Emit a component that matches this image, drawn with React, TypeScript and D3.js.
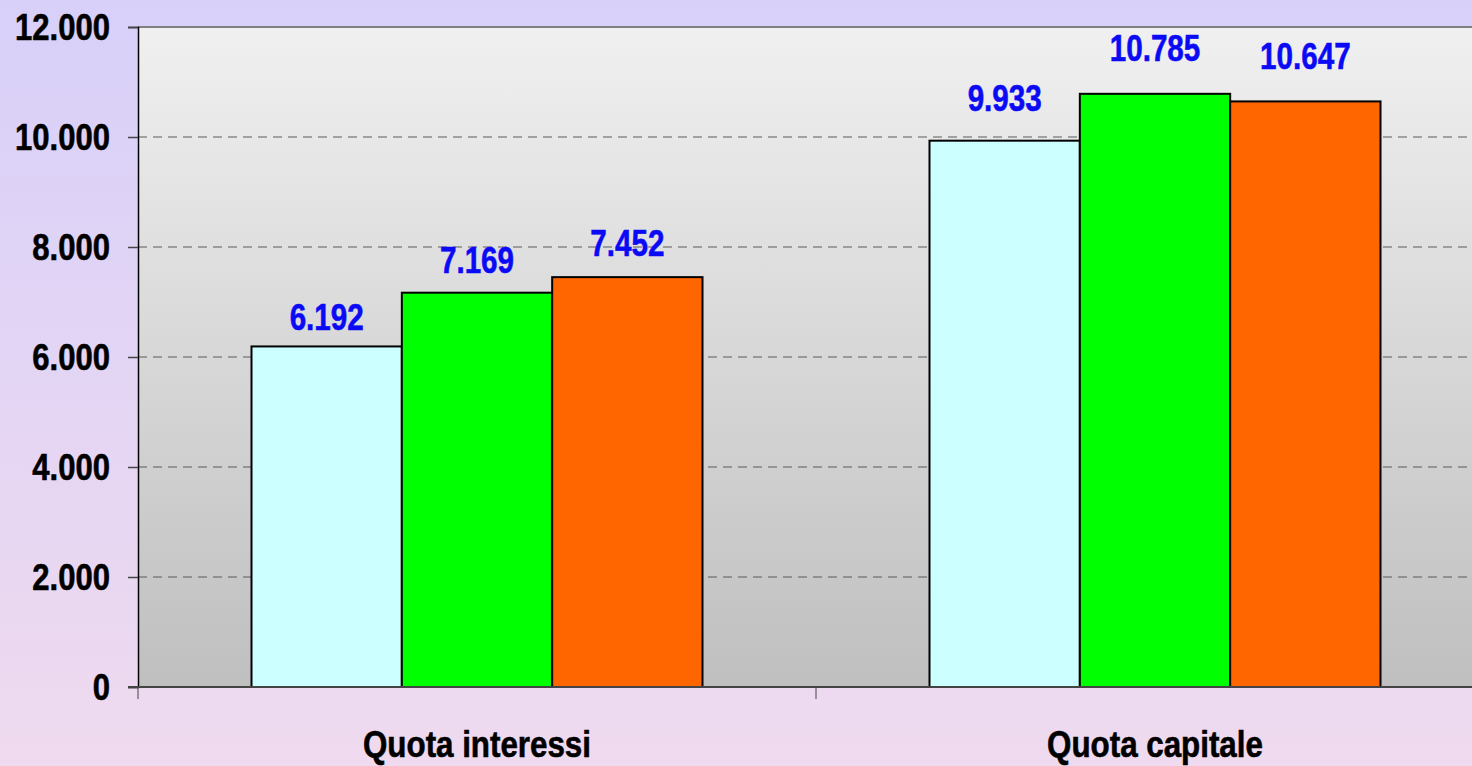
import * as d3 from "d3";
import React, { useEffect, useRef } from "react";

const categories = ["Quota interessi", "Quota capitale"];
const seriesNames = ["A", "B", "C"];
const seriesValues = [
  [6192, 9933],
  [7169, 10785],
  [7452, 10647],
];
const seriesColors = ["#ccffff", "#00ff00", "#ff6600"];
const yTicks = [0, 2000, 4000, 6000, 8000, 10000, 12000];

const W = 1472;
const H = 766;
const FONT = "'Liberation Sans', Arial, sans-serif";

const fmt = (v: number) => d3.format(",")(v).replace(/,/g, ".");

function App() {
  const svgRef = useRef<SVGSVGElement>(null);

  useEffect(() => {
    const svg = d3.select(svgRef.current);
    svg.selectAll("*").remove();

    const margin = { top: 27, left: 138, bottom: 79 };
    const plotRight = 1494;
    const plotBottom = H - margin.bottom;

    const defs = svg.append("defs");
    const bg = defs.append("linearGradient").attr("id", "pageBg").attr("x1", 0).attr("y1", 0).attr("x2", 0).attr("y2", 1);
    bg.append("stop").attr("offset", "0%").attr("stop-color", "#d8d0f9");
    bg.append("stop").attr("offset", "100%").attr("stop-color", "#efdaef");
    const pg = defs.append("linearGradient").attr("id", "plotBg").attr("x1", 0).attr("y1", 0).attr("x2", 0).attr("y2", 1);
    pg.append("stop").attr("offset", "0%").attr("stop-color", "#f0f0f0");
    pg.append("stop").attr("offset", "100%").attr("stop-color", "#bfbfbf");

    svg.append("rect").attr("width", W).attr("height", H).attr("fill", "url(#pageBg)");

    const x0 = d3.scaleBand().domain(categories).range([margin.left, plotRight]);
    const innerPad = (x0.bandwidth() - 451) / 2;
    const x1 = d3
      .scaleBand()
      .domain(seriesNames)
      .range([innerPad, x0.bandwidth() - innerPad]);

    const y = d3.scaleLinear().domain([0, 12000]).range([plotBottom, margin.top]);
    // data labels sit on a slightly stretched scale in the original
    const labelY = d3.scaleLinear().domain([0, 12000]).range([693, -10]);

    svg.append("rect")
      .attr("x", margin.left)
      .attr("y", margin.top)
      .attr("width", plotRight - margin.left)
      .attr("height", plotBottom - margin.top)
      .attr("fill", "url(#plotBg)");

    // grid
    svg.append("g")
      .selectAll("line")
      .data(yTicks.filter((t) => t > 0 && t < 12000))
      .join("line")
      .attr("x1", margin.left)
      .attr("x2", plotRight)
      .attr("y1", (d) => y(d))
      .attr("y2", (d) => y(d))
      .attr("stroke", "#5a5a5a")
      .attr("stroke-width", 1)
      .attr("stroke-dasharray", "9,6");

    svg.append("line")
      .attr("x1", margin.left)
      .attr("x2", plotRight)
      .attr("y1", y(12000))
      .attr("y2", y(12000))
      .attr("stroke", "#808080")
      .attr("stroke-width", 2);

    // bars
    seriesNames.forEach((s, si) => {
      const g = svg.append("g");
      g.selectAll("rect")
        .data(categories)
        .join("rect")
        .attr("x", (c) => x0(c)! + x1(s)!)
        .attr("y", (c, ci) => y(seriesValues[si][ci]))
        .attr("width", x1.bandwidth())
        .attr("height", (c, ci) => plotBottom - y(seriesValues[si][ci]))
        .attr("fill", seriesColors[si])
        .attr("stroke", "#000")
        .attr("stroke-width", 2);

      g.selectAll("text")
        .data(categories)
        .join("text")
        .attr("transform", (c, ci) =>
          `translate(${x0(c)! + x1(s)! + x1.bandwidth() / 2},${labelY(seriesValues[si][ci])}) scale(0.8,1)`)
        .attr("text-anchor", "middle")
        .attr("font-family", FONT)
        .attr("font-weight", "bold")
        .attr("font-size", 37)
        .attr("fill", "#0a0af5")
        .attr("stroke", "#0a0af5")
        .attr("stroke-width", 0.6)
        .text((c, ci) => fmt(seriesValues[si][ci]));
    });

    // y axis
    const yAxis = svg.append("g")
      .attr("transform", `translate(${margin.left},0)`)
      .call(d3.axisLeft(y).tickValues(yTicks).tickSize(10).tickFormat(() => ""));
    yAxis.select(".domain").attr("stroke", "#000").attr("stroke-width", 1.5);
    yAxis.selectAll(".tick line").attr("stroke", "#444").attr("stroke-width", 1.5);

    svg.append("g")
      .selectAll("text")
      .data(yTicks)
      .join("text")
      .attr("transform", (d) => `translate(${margin.left - 28},${y(d) + 13}) scale(0.84,1)`)
      .attr("text-anchor", "end")
      .attr("font-family", FONT)
      .attr("font-weight", "bold")
      .attr("font-size", 37)
      .attr("fill", "#000")
      .attr("stroke", "#000")
      .attr("stroke-width", 0.6)
      .text((d) => fmt(d));

    // x axis
    svg.append("line")
      .attr("x1", margin.left - 10)
      .attr("x2", plotRight)
      .attr("y1", plotBottom)
      .attr("y2", plotBottom)
      .attr("stroke", "#444")
      .attr("stroke-width", 2);
    svg.append("g")
      .selectAll("line")
      .data([...categories.map((c) => x0(c)!), plotRight])
      .join("line")
      .attr("x1", (d) => d)
      .attr("x2", (d) => d)
      .attr("y1", plotBottom)
      .attr("y2", plotBottom + 12)
      .attr("stroke", "#444")
      .attr("stroke-width", 1);
    svg.append("g")
      .selectAll("text")
      .data(categories)
      .join("text")
      .attr("transform", (c) => `translate(${x0(c)! + x0.bandwidth() / 2},757) scale(0.87,1)`)
      .attr("text-anchor", "middle")
      .attr("font-family", FONT)
      .attr("font-weight", "bold")
      .attr("font-size", 36)
      .attr("fill", "#000")
      .attr("stroke", "#000")
      .attr("stroke-width", 0.6)
      .text((c) => c);
  }, []);

  return (
    <svg
      ref={svgRef}
      width={W}
      height={H}
      style={{ position: "absolute", left: 0, top: 0, display: "block" }}
    ></svg>
  );
}

export default App;
